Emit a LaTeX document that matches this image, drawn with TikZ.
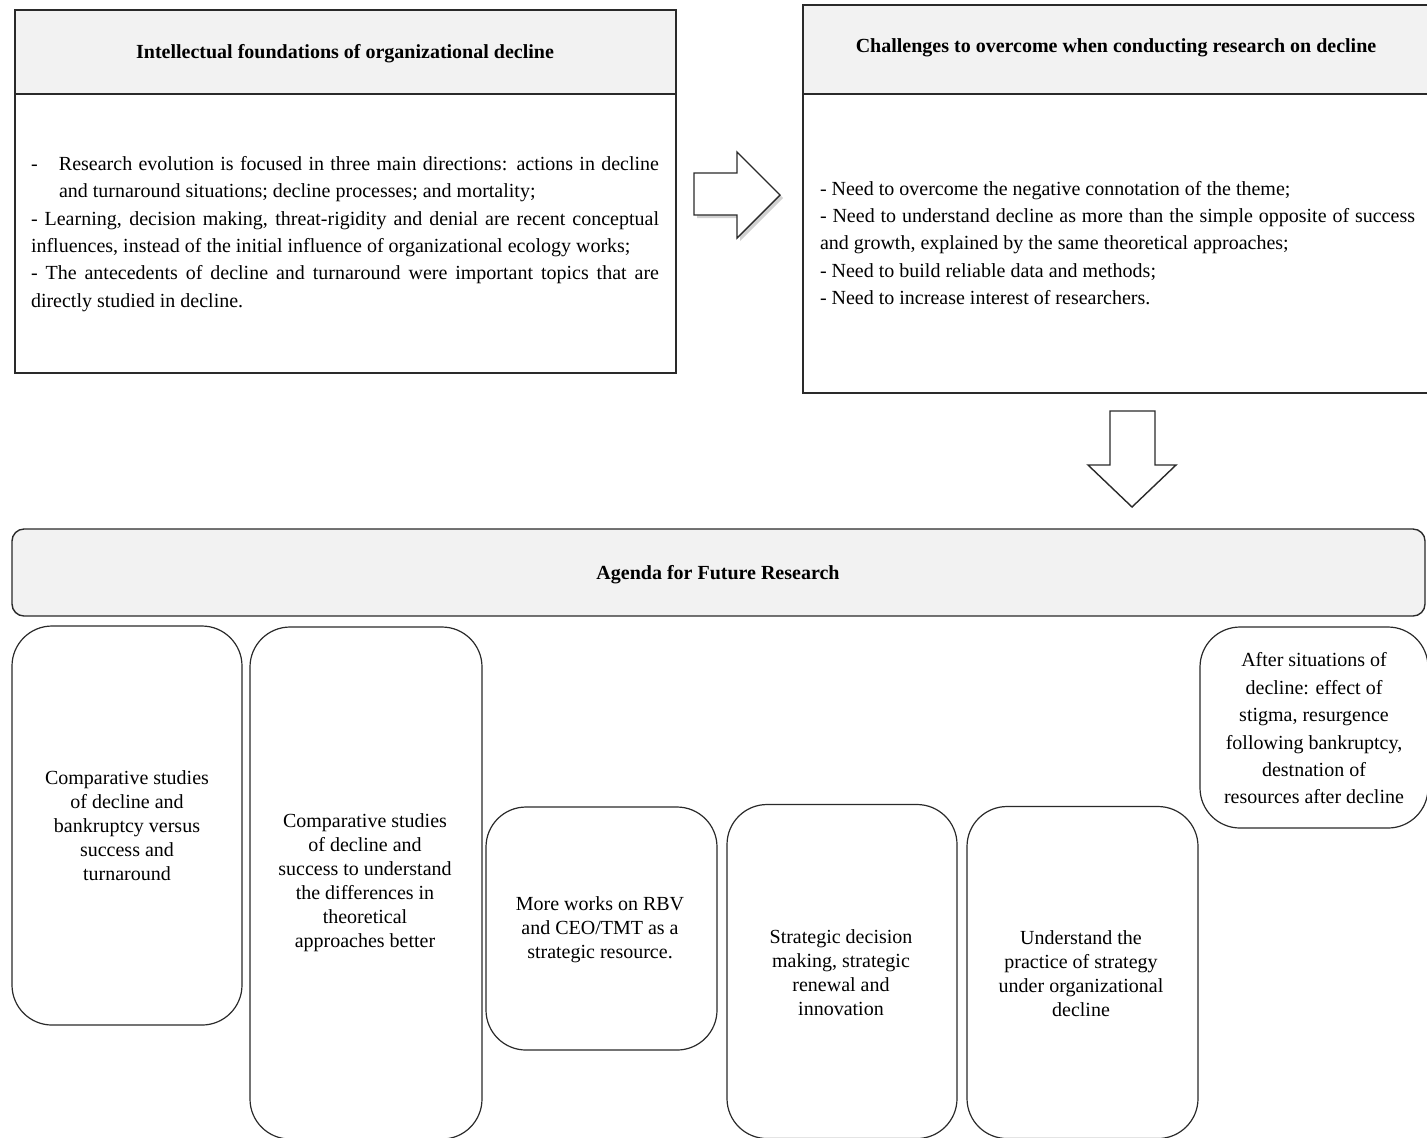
\documentclass[tikz,border=0pt]{standalone}
\usepackage{fontspec}
\setmainfont{Liberation Serif}
\definecolor{hdrgray}{HTML}{F2F2F2}
\definecolor{linegray}{HTML}{2A2A2A}
\begin{document}
\begin{tikzpicture}[x=0.5pt,y=-0.5pt,
  frame/.style={draw=linegray, line width=0.7pt, inner sep=0pt, outer sep=0pt},
  hdr/.style={frame, fill=hdrgray},
  rbox/.style={draw=linegray, line width=0.6pt, rounded corners=20pt, inner sep=0pt, outer sep=0pt},
  boxtext/.style={align=center, font=\fontsize{10}{12}\selectfont, inner sep=0pt},
  bodytext/.style={align=justify, font=\fontsize{10}{13.7}\selectfont, inner sep=0pt},
  titletext/.style={font=\fontsize{10}{12}\selectfont\bfseries, inner sep=0pt},
  blockarrow/.style={draw=linegray, line width=0.7pt, fill=white, line join=miter},
  arrowshadow/.style={fill=black, opacity=0.18, draw=none}
]
\clip (0,0) rectangle (1427,1137);
\useasboundingbox (0,0) rectangle (1427,1137);

% ---- top left box
\node[hdr, minimum width=330.5pt, minimum height=42pt] (hA) at (345.5,52) {};
\node[frame, minimum width=330.5pt, minimum height=139.5pt] (bA) at (345.5,233.5) {};
\node[titletext] (tA) at (345,54) {Intellectual foundations of organizational decline};
\node[bodytext, text width=314pt] (xA) at (345,234) {%
\hangindent=14pt\hangafter=1 \makebox[14pt][l]{-}Research evolution is focused in three main directions: actions in decline\linebreak and turnaround situations; decline processes; and mortality;\par
- Learning, decision making, threat-rigidity and denial are recent conceptual\linebreak influences, instead of the initial influence of organizational ecology works;\par
- The antecedents of decline and turnaround were important topics that are\linebreak directly studied in decline.};

% ---- top right box
\node[hdr, minimum width=313.5pt, minimum height=44.5pt] (hB) at (1116.5,49.5) {};
\node[frame, minimum width=313.5pt, minimum height=149.5pt] (bB) at (1116.5,243.5) {};
\node[titletext] (tB) at (1116,48) {Challenges to overcome when conducting research on decline};
\node[bodytext, text width=297.5pt] (xB) at (1117.5,243) {%
- Need to overcome the negative connotation of the theme;\par
- Need to understand decline as more than the simple opposite of success\linebreak and growth, explained by the same theoretical approaches;\par
- Need to build reliable data and methods;\par
- Need to increase interest of researchers.};

% ---- block arrows
\fill[arrowshadow] (697,176) -- (740,176) -- (740,155) -- (783,198) -- (740,241) -- (740,218) -- (697,218) -- cycle;
\draw[blockarrow] (694,173) -- (737,173) -- (737,152) -- (780,195) -- (737,238) -- (737,215) -- (694,215) -- cycle;
\draw[blockarrow] (1110,411) -- (1155,411) -- (1155,465) -- (1176,465) -- (1132,507) -- (1088,465) -- (1110,465) -- cycle;

% ---- agenda bar
\node[frame, fill=hdrgray, rounded corners=6pt, minimum width=706.5pt, minimum height=43.5pt] (ag) at (718.5,572.5) {};
\node[titletext] (tAg) at (718,575) {Agenda for Future Research};

% ---- agenda items
\node[rbox, minimum width=115pt, minimum height=199.5pt] (b1) at (127,825.5) {};
\node[boxtext] (x1) at (127,826) {Comparative studies\\of decline and\\bankruptcy versus\\success and\\turnaround};

\node[rbox, minimum width=116pt, minimum height=256pt] (b2) at (366,883) {};
\node[boxtext] (x2) at (365,882.5) {Comparative studies\\of decline and\\success to understand\\the differences in\\theoretical\\approaches better};

\node[rbox, minimum width=115.5pt, minimum height=121.5pt] (b3) at (601.5,928.5) {};
\node[boxtext] (x3) at (600,929.5) {More works on RBV\\and CEO/TMT as a\\strategic resource.};

\node[rbox, minimum width=115pt, minimum height=167pt] (b4) at (842,971.5) {};
\node[boxtext] (x4) at (841,973) {Strategic decision\\making, strategic\\renewal and\\innovation};

\node[rbox, minimum width=115.5pt, minimum height=166pt] (b5) at (1082.5,972.5) {};
\node[boxtext] (x5) at (1081,974) {Understand the\\practice of strategy\\under organizational\\decline};

\node[rbox, minimum width=114pt, minimum height=100.5pt] (b6) at (1314,727.5) {};
\node[boxtext, font=\fontsize{10}{13.7}\selectfont] (x6) at (1314,728.5) {After situations of\\decline: effect of\\stigma, resurgence\\following bankruptcy,\\destnation of\\resources after decline};
\end{tikzpicture}
\end{document}
